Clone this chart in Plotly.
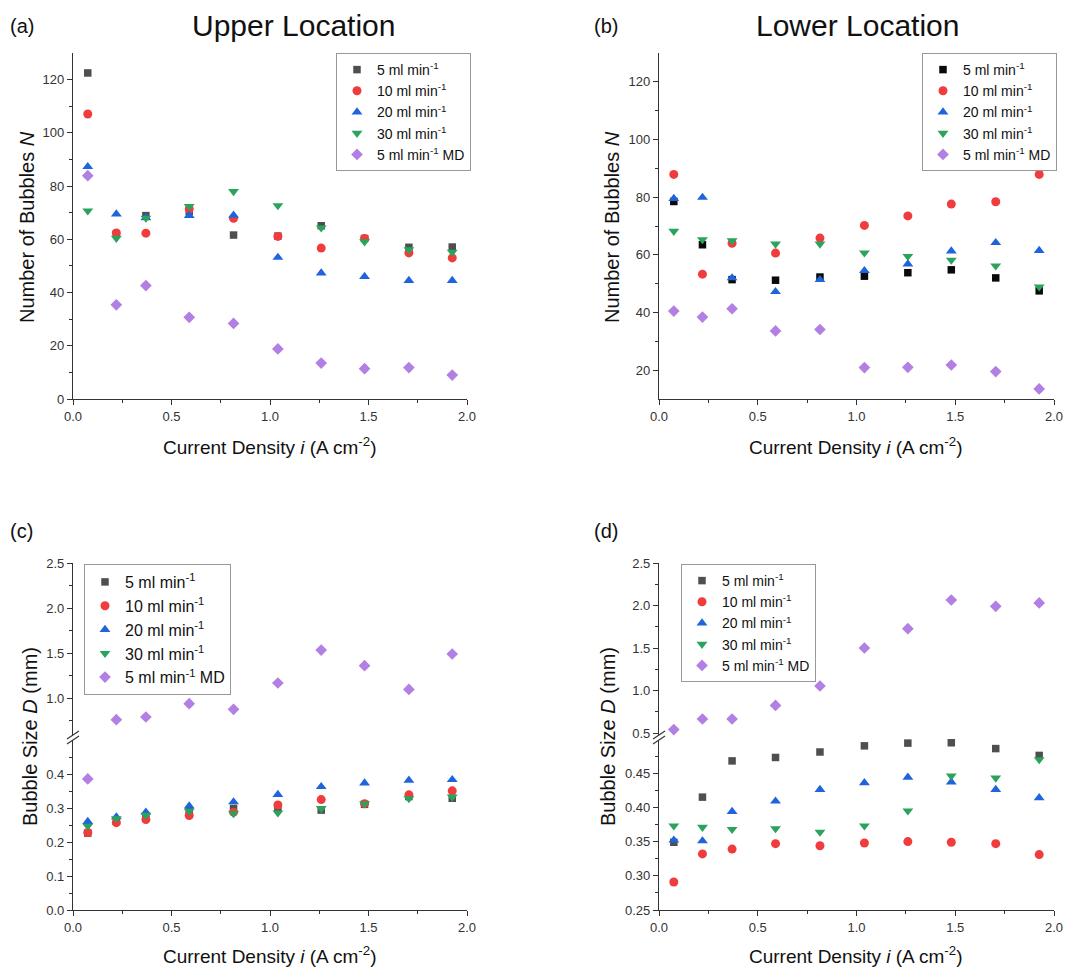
import plotly.graph_objects as go

# The page body has an 8px margin, so the figure is drawn 8px smaller and every
# reference pixel position is shifted by that offset.
WIN_W, WIN_H = 1089, 969
OFF = 8
W, H = WIN_W - OFF, WIN_H - OFF

# ---------------- data ----------------
current_density = [0.075, 0.22, 0.37, 0.59, 0.815, 1.04, 1.26, 1.48, 1.705, 1.925]

series_names = ["5 ml min<sup>-1</sup>", "10 ml min<sup>-1</sup>", "20 ml min<sup>-1</sup>",
                "30 ml min<sup>-1</sup>", "5 ml min<sup>-1</sup> MD"]

upper_N_5 = [122.5, 62.0, 68.9, 70.5, 61.6, 61.2, 65.1, 60.3, 57.0, 57.1]
upper_N_10 = [107.1, 62.4, 62.3, 71.4, 67.9, 61.1, 56.7, 60.3, 54.9, 53.0]
upper_N_20 = [87.3, 69.5, 68.1, 68.9, 69.0, 53.2, 47.3, 46.0, 44.5, 44.5]
upper_N_30 = [70.7, 60.4, 68.0, 72.4, 78.0, 72.7, 64.3, 59.1, 56.1, 55.2]
upper_N_MD = [83.9, 35.4, 42.6, 30.7, 28.4, 18.8, 13.5, 11.4, 11.8, 9.0]

lower_N_5 = [78.5, 63.5, 51.4, 51.2, 52.3, 52.6, 53.8, 54.8, 52.0, 47.5]
lower_N_10 = [87.9, 53.3, 64.0, 60.6, 65.8, 70.2, 73.5, 77.6, 78.4, 87.9]
lower_N_20 = [79.5, 79.9, 52.0, 47.2, 51.4, 54.5, 56.8, 61.3, 64.2, 61.5]
lower_N_30 = [68.2, 65.3, 64.9, 63.8, 63.8, 60.7, 59.5, 58.2, 56.2, 48.9]
lower_N_MD = [40.5, 38.4, 41.3, 33.6, 34.1, 20.9, 21.0, 21.8, 19.5, 13.5]

upper_D_5 = [0.227, 0.262, 0.276, 0.290, 0.300, 0.300, 0.295, 0.312, 0.335, 0.330]
upper_D_10 = [0.229, 0.258, 0.267, 0.279, 0.289, 0.310, 0.326, 0.314, 0.340, 0.352]
upper_D_20 = [0.261, 0.275, 0.289, 0.307, 0.319, 0.341, 0.364, 0.375, 0.383, 0.385]
upper_D_30 = [0.248, 0.270, 0.280, 0.292, 0.285, 0.287, 0.300, 0.314, 0.329, 0.334]
upper_D_MD = [0.387, 0.760, 0.789, 0.937, 0.874, 1.167, 1.533, 1.359, 1.096, 1.489]

lower_D_5 = [0.349, 0.415, 0.468, 0.473, 0.481, 0.490, 0.494, 0.4945, 0.486, 0.476]
lower_D_10 = [0.291, 0.332, 0.339, 0.347, 0.344, 0.348, 0.350, 0.349, 0.347, 0.331]
lower_D_20 = [0.352, 0.351, 0.394, 0.409, 0.426, 0.436, 0.444, 0.437, 0.426, 0.414]
lower_D_30 = [0.373, 0.371, 0.368, 0.369, 0.364, 0.373, 0.395, 0.446, 0.443, 0.470]
lower_D_MD = [0.540, 0.665, 0.665, 0.825, 1.053, 1.500, 1.727, 2.065, 1.990, 2.030]

D_BREAK = 0.5

# ---------------- styles ----------------
FONT = "Liberation Sans, Arial, sans-serif"
GRAY_SQ = "#4f4f4f"
RED = "#f03c3c"
BLUE = "#1f64dc"
GREEN = "#2aa35c"
PURPLE = "#b27fe2"
symbols = ["square", "circle", "triangle-up", "triangle-down", "diamond"]
sizes = [7.5, 9, 9.5, 9.5, 9]


def px_x(p):
    return (p - OFF) / W


def px_y(p):
    return 1 - (p - OFF) / H


fig = go.Figure()


def marker(k, colors):
    return dict(symbol=symbols[k], size=sizes[k], color=colors[k], line=dict(width=0))


def add_panel(series, xa, ya, legend, colors, ya_upper=None, brk=None):
    for k, vals in enumerate(series):
        if ya_upper is None:
            fig.add_trace(go.Scatter(
                x=current_density, y=vals, mode="markers", name=series_names[k],
                xaxis=xa, yaxis=ya, legend=legend, legendgroup=legend + str(k),
                marker=marker(k, colors)))
        else:
            lo_x = [x for x, v in zip(current_density, vals) if v <= brk]
            lo_y = [v for v in vals if v <= brk]
            hi_x = [x for x, v in zip(current_density, vals) if v > brk]
            hi_y = [v for v in vals if v > brk]
            lo_shows = len(lo_y) > 0
            fig.add_trace(go.Scatter(
                x=lo_x, y=lo_y, mode="markers", name=series_names[k], showlegend=lo_shows,
                xaxis=xa, yaxis=ya, legend=legend, legendgroup=legend + str(k),
                marker=marker(k, colors)))
            fig.add_trace(go.Scatter(
                x=hi_x, y=hi_y, mode="markers", name=series_names[k], showlegend=not lo_shows,
                xaxis=xa, yaxis=ya_upper, legend=legend, legendgroup=legend + str(k),
                marker=marker(k, colors)))


colors_gray = [GRAY_SQ, RED, BLUE, GREEN, PURPLE]
colors_black = ["#0a0a0a", RED, BLUE, GREEN, PURPLE]

add_panel([upper_N_5, upper_N_10, upper_N_20, upper_N_30, upper_N_MD], "x", "y", "legend", colors_gray)
add_panel([lower_N_5, lower_N_10, lower_N_20, lower_N_30, lower_N_MD], "x2", "y2", "legend2", colors_black)
add_panel([upper_D_5, upper_D_10, upper_D_20, upper_D_30, upper_D_MD], "x3", "y3", "legend3", colors_gray,
          ya_upper="y4", brk=D_BREAK)
add_panel([lower_D_5, lower_D_10, lower_D_20, lower_D_30, lower_D_MD], "x4", "y5", "legend4", colors_gray,
          ya_upper="y6", brk=D_BREAK)

AX = dict(showline=True, linecolor="#333", linewidth=1.2, ticks="outside", ticklen=5, tickwidth=1.2,
          tickcolor="#333", showgrid=False, zeroline=False, automargin=False,
          tickfont=dict(family=FONT, size=13, color="#333"))

XA = dict(AX, range=[0, 2.0], tickvals=[0, 0.5, 1.0, 1.5, 2.0], tickformat=".1f",
          minor=dict(tickvals=[0.25, 0.75, 1.25, 1.75], ticks="outside", ticklen=3, tickcolor="#333", tickwidth=1.2))

LEFT_DOM = [px_x(73), px_x(467)]
RIGHT_DOM = [px_x(659), px_x(1054)]
TOP_DOM = [px_y(399), px_y(53)]
BOT_LO = [px_y(910), px_y(739)]
BOT_HI = [px_y(737), px_y(563)]


def minor(vals):
    return dict(tickvals=vals, ticks="outside", ticklen=3, tickcolor="#333", tickwidth=1.2)


fig.update_layout(
    width=W, height=H, margin=dict(l=0, r=0, t=0, b=0, pad=0, autoexpand=False),
    paper_bgcolor="white", plot_bgcolor="white",
    font=dict(family=FONT, color="#111"),
    xaxis=dict(XA, domain=LEFT_DOM, anchor="y"),
    yaxis=dict(AX, domain=TOP_DOM, anchor="x", range=[0, 130],
               tickvals=[0, 20, 40, 60, 80, 100, 120], minor=minor([10, 30, 50, 70, 90, 110])),
    xaxis2=dict(XA, domain=RIGHT_DOM, anchor="y2"),
    yaxis2=dict(AX, domain=TOP_DOM, anchor="x2", range=[10, 130],
                tickvals=[20, 40, 60, 80, 100, 120], minor=minor([30, 50, 70, 90, 110])),
    xaxis3=dict(XA, domain=LEFT_DOM, anchor="y3"),
    yaxis3=dict(AX, domain=BOT_LO, anchor="x3", range=[0, 0.505],
                tickvals=[0, 0.1, 0.2, 0.3, 0.4], tickformat=".1f", minor=minor([0.05, 0.15, 0.25, 0.35, 0.45])),
    yaxis4=dict(AX, domain=BOT_HI, anchor="x3", range=[0.567, 2.5],
                tickvals=[1.0, 1.5, 2.0, 2.5], tickformat=".1f", minor=minor([0.75, 1.25, 1.75, 2.25])),
    xaxis4=dict(XA, domain=RIGHT_DOM, anchor="y5"),
    yaxis5=dict(AX, domain=BOT_LO, anchor="x4", range=[0.25, 0.5],
                tickvals=[0.25, 0.30, 0.35, 0.40, 0.45], tickformat=".2f",
                minor=minor([0.275, 0.325, 0.375, 0.425, 0.475])),
    yaxis6=dict(AX, domain=BOT_HI, anchor="x4", range=[0.453, 2.5],
                tickvals=[0.5, 1.0, 1.5, 2.0, 2.5], tickformat=".1f", minor=minor([0.75, 1.25, 1.75, 2.25])),
)

LEG = dict(xanchor="left", yanchor="top", bgcolor="white", bordercolor="#999", borderwidth=1,
           font=dict(family=FONT, size=14, color="#111"), tracegroupgap=0, traceorder="normal")
fig.update_layout(
    legend=dict(LEG, x=px_x(336), y=px_y(53)),
    legend2=dict(LEG, x=px_x(922), y=px_y(53)),
    legend3=dict(LEG, x=px_x(84), y=px_y(564), font=dict(family=FONT, size=16, color="#111")),
    legend4=dict(LEG, x=px_x(681), y=px_y(564)),
)

ann = []


def text(t, x, y, size, angle=0, xanchor="center"):
    ann.append(dict(text=t, x=px_x(x), y=px_y(y), xref="paper", yref="paper", showarrow=False,
                    font=dict(family=FONT, size=size, color="#111"), textangle=angle,
                    xanchor=xanchor, yanchor="middle"))


text("Upper Location", 293, 25, 30)
text("Lower Location", 857, 25, 30)
text("(a)", 8, 26, 20, xanchor="left")
text("(b)", 592, 26, 20, xanchor="left")
text("(c)", 8, 531, 20, xanchor="left")
text("(d)", 592, 531, 20, xanchor="left")
text("Number of Bubbles <i>N</i>", 27, 227, 20, angle=-90)
text("Number of Bubbles <i>N</i>", 612, 227, 20, angle=-90)
text("Bubble Size <i>D</i> (mm)", 30, 737, 20, angle=-90)
text("Bubble Size <i>D</i> (mm)", 608, 737, 20, angle=-90)
for cx, cy in [(270, 446), (856, 446), (270, 955), (856, 955)]:
    text("Current Density <i>i</i> (A cm<sup>-2</sup>)", cx, cy, 19)
fig.update_layout(annotations=ann)

# axis-break marks
shapes = []
for ax_x in (73, 659):
    cy = 738
    x0, x1 = ax_x - 6, ax_x + 6
    p = [(x0, cy + 1), (x1, cy - 7), (x1, cy - 2), (x0, cy + 6)]
    path = "M " + " L ".join(f"{px_x(a)},{px_y(b)}" for a, b in p) + " Z"
    shapes.append(dict(type="path", path=path, xref="paper", yref="paper", fillcolor="white",
                       line=dict(width=0)))
    for off in (0, 5):
        shapes.append(dict(type="line", xref="paper", yref="paper",
                           x0=px_x(x0), y0=px_y(cy + 1 + off), x1=px_x(x1), y1=px_y(cy - 7 + off),
                           line=dict(color="#333", width=1.2)))
fig.update_layout(shapes=shapes)

fig.write_html("out.html")
